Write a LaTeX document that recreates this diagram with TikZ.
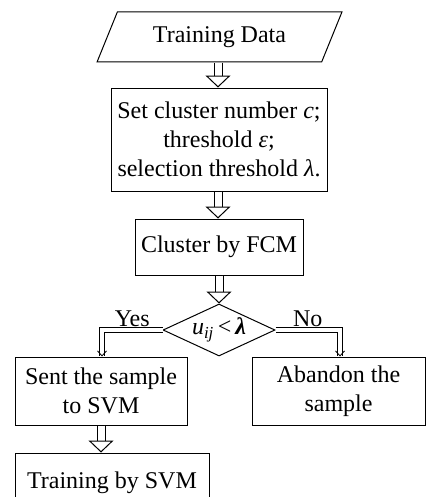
\documentclass[tikz,border=0pt]{standalone}
\usepackage{fontspec}
\setmainfont{Liberation Serif}
\usepackage{tikz}
\usetikzlibrary{shapes, arrows.meta, positioning, calc}

\begin{document}
\begin{tikzpicture}[font=\fontsize{24}{29}\selectfont, line width=1pt,
    box/.style={draw, rectangle, align=center, inner sep=2pt},
    fat/.style={double, double distance=7pt, line width=1pt, -{Triangle[open, width=25pt, length=12pt]}},
    branch/.style={double, double distance=4pt, line width=0.8pt, -{Straight Barb[width=9pt, length=5pt]}}]
    \useasboundingbox (0,0) rectangle (425pt,-497pt);

    \node[draw, trapezium, trapezium left angle=63.4, trapezium right angle=116.6, trapezium stretches=true,
        minimum width=245pt, minimum height=50pt] (data) at (219.5pt,-37pt) {Training Data};
    \node[box, below=25pt of data, xshift=-0.5pt, minimum width=216pt, minimum height=103pt] (setup)
        {Set cluster number \textit{c};\\threshold \textit{ε};\\selection threshold \textit{λ}.};
    \node[box, below=27pt of setup, minimum width=168pt, minimum height=56pt] (fcm) {Cluster by FCM};
    \node[draw, diamond, aspect=2.07, inner sep=0pt, below=28pt of fcm,
        minimum width=112pt, minimum height=52pt] (dec)
        {\textit{u}\textsubscript{\textit{ij}}\,<\,\textit{\textbf{λ}}};

    \node[box, below=0pt of dec, xshift=-118pt, minimum width=172pt, minimum height=68pt] (sent)
        {Sent the sample\\to SVM};
    \node[box, below=0pt of dec, xshift=119.5pt, minimum width=173pt, minimum height=68pt] (drop)
        {Abandon the\\sample};
    \node[box, below=27pt of sent, xshift=11pt, minimum width=194pt, minimum height=60pt] (svm) {Training by SVM};

    \draw[fat] (data.south -| 218pt,0) -- (setup.north -| 218pt,0);
    \draw[fat] (setup.south -| 218pt,0) -- (fcm.north -| 218pt,0);
    \draw[fat] (fcm.south -| dec.north) -- (dec.north);
    \draw[branch] (dec.west) -| node[pos=0.25, above] {Yes} ($(sent.north)+(1pt,0)$);
    \draw[branch] (dec.east) -| node[pos=0.25, above] {No} ($(drop.north)+(1.5pt,0)$);
    \draw[fat] (sent.south) -- (sent.south |- svm.north);
\end{tikzpicture}
\end{document}
